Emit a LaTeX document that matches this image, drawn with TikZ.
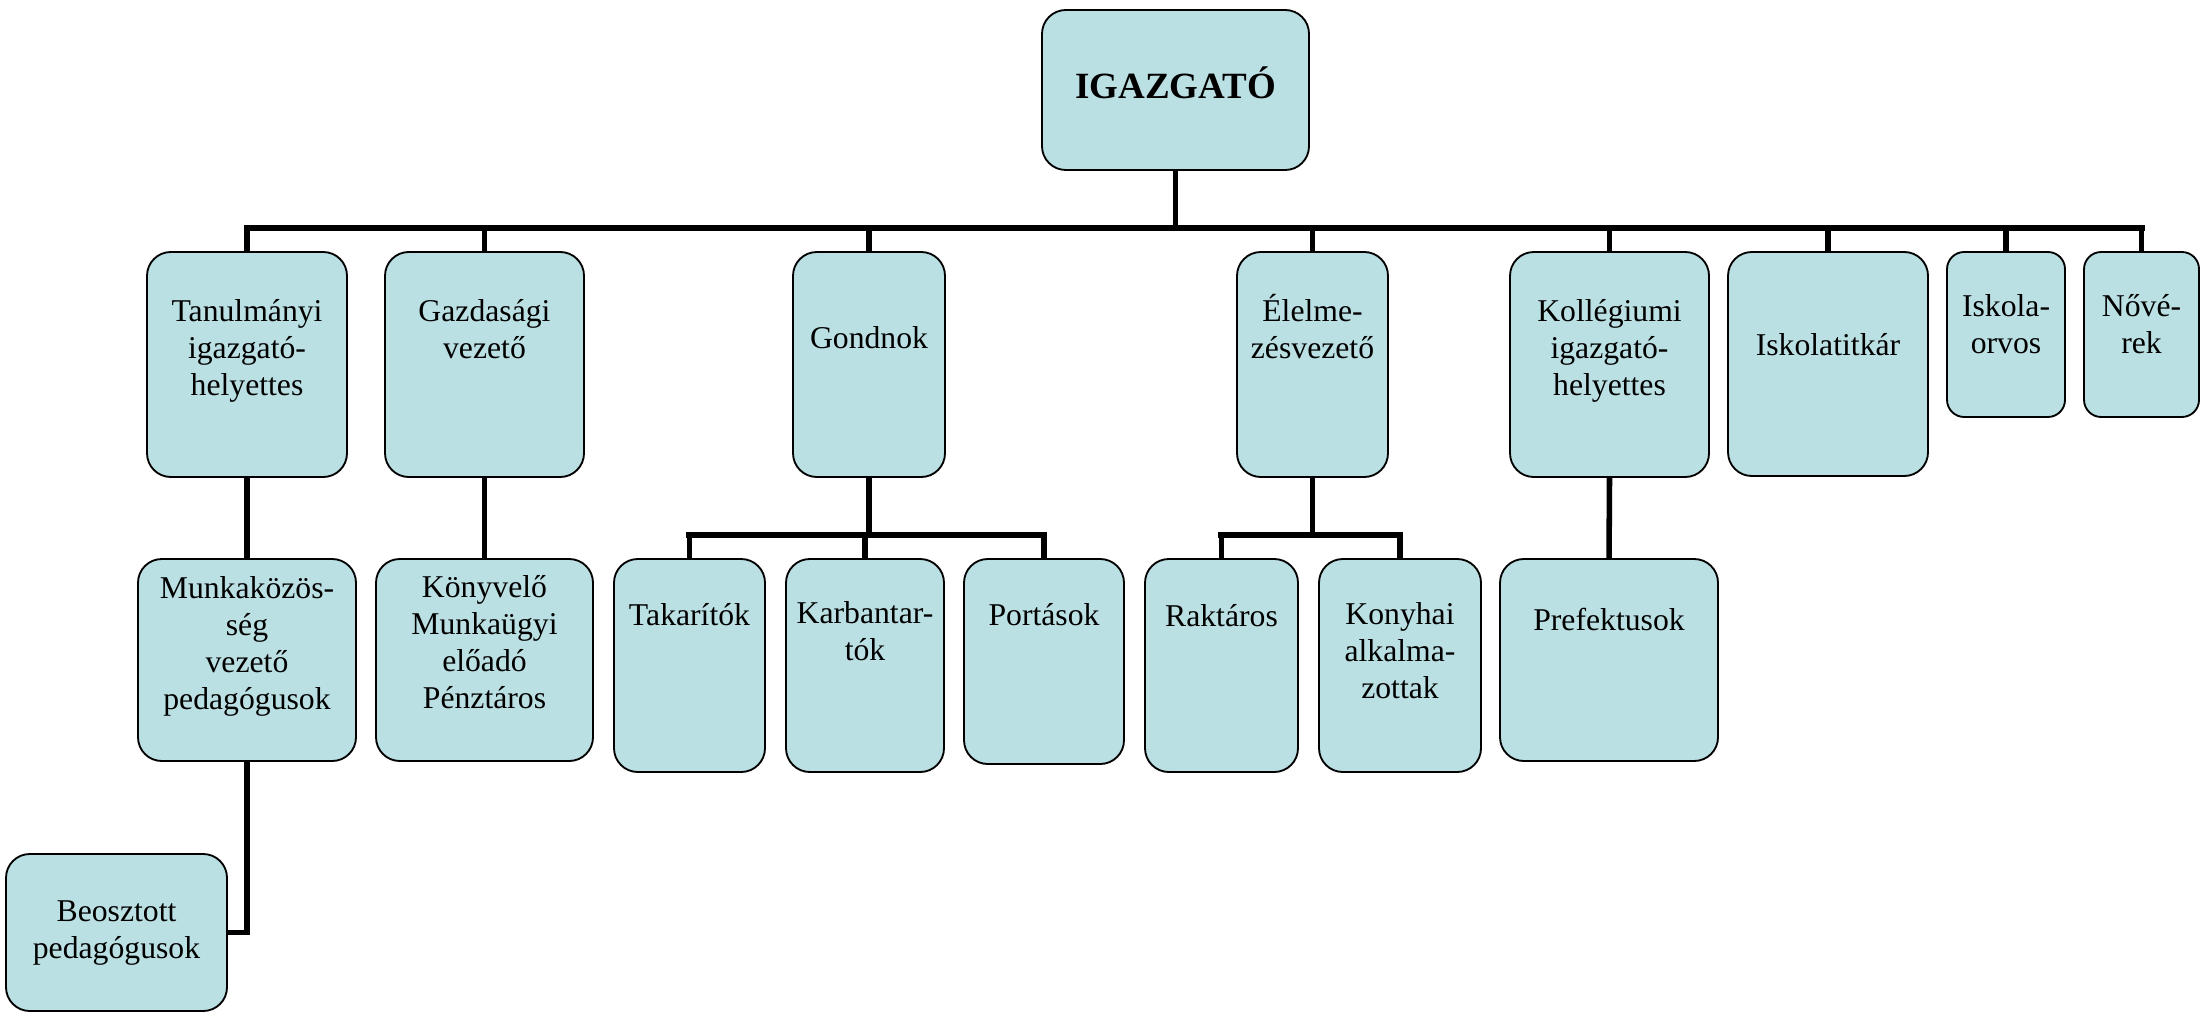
\documentclass[tikz,border=0pt]{standalone}
\usepackage{fontspec}
\setmainfont{Liberation Serif}
\def\pxu{0.3785pt}
\definecolor{boxfill}{HTML}{BBE0E3}
\tikzset{
  box/.style={draw=black, line width=0.7pt, fill=boxfill, rounded corners=9pt, inner sep=0pt, rectangle},
  smallbox/.style={box, rounded corners=6.5pt},
  lbl/.style={align=center, inner sep=0pt, font=\fontsize{12}{14}\selectfont,
    execute at begin node=\strut, execute at end node=\strut},
  toplbl/.style={align=center, inner sep=0pt, font=\fontsize{14}{16}\selectfont\bfseries},
  drop/.style={line width=2.1pt},
  busline/.style={line width=2.5pt, line cap=rect},
  elbow/.style={line width=2.2pt, line join=miter},
}
\begin{document}
\begin{tikzpicture}[x=\pxu, y=-\pxu]
\useasboundingbox (0,0) rectangle (2201,1013);

% ---- boxes ----
\node[box, minimum width=267*\pxu, minimum height=160*\pxu] (dir) at (1175.5,90) {};
\node[box, minimum width=200*\pxu, minimum height=225*\pxu] (tan) at (247,364.5) {};
\node[box, minimum width=199*\pxu, minimum height=225*\pxu] (gaz) at (484.5,364.5) {};
\node[box, minimum width=152*\pxu, minimum height=225*\pxu] (gon) at (869,364.5) {};
\node[box, minimum width=151*\pxu, minimum height=225*\pxu] (ele) at (1312.5,364.5) {};
\node[box, minimum width=199*\pxu, minimum height=225*\pxu] (kol) at (1609.5,364.5) {};
\node[box, minimum width=200*\pxu, minimum height=224*\pxu] (tit) at (1828,364) {};
\node[smallbox, minimum width=118*\pxu, minimum height=165*\pxu] (orv) at (2006,334.5) {};
\node[smallbox, minimum width=115*\pxu, minimum height=165*\pxu] (nov) at (2141.5,334.5) {};

\node[box, minimum width=218*\pxu, minimum height=202*\pxu] (mkk) at (247,660) {};
\node[box, minimum width=217*\pxu, minimum height=202*\pxu] (kony) at (484.5,660) {};
\node[box, minimum width=151*\pxu, minimum height=213*\pxu] (tak) at (689.5,665.5) {};
\node[box, minimum width=158*\pxu, minimum height=213*\pxu] (karb) at (865,665.5) {};
\node[box, minimum width=160*\pxu, minimum height=205*\pxu] (port) at (1044,661.5) {};
\node[box, minimum width=153*\pxu, minimum height=213*\pxu] (rakt) at (1221.5,665.5) {};
\node[box, minimum width=162*\pxu, minimum height=213*\pxu] (konyh) at (1400,665.5) {};
\node[box, minimum width=218*\pxu, minimum height=202*\pxu] (pref) at (1609,660) {};
\node[box, minimum width=221*\pxu, minimum height=157*\pxu] (beo) at (116.5,932.5) {};

% ---- texts ----
\node[toplbl] (dir-t) at (1175.5,83) {IGAZGATÓ};
\node[lbl] (tan-t) at (247,353) {Tanulmányi\\igazgató-\\helyettes};
\node[lbl] (gaz-t) at (484.5,334.5) {Gazdasági\\vezető};
\node[lbl] (gon-t) at (869,341) {Gondnok};
\node[lbl] (ele-t) at (1312.5,331.5) {Élelme-\\zésvezető};
\node[lbl] (kol-t) at (1609.5,353) {Kollégiumi\\igazgató-\\helyettes};
\node[lbl] (tit-t) at (1828,348) {Iskolatitkár};
\node[lbl] (orv-t) at (2006,329.5) {Iskola-\\orvos};
\node[lbl] (nov-t) at (2141.5,329.5) {Nővé-\\rek};

\node[lbl] (mkk-t) at (247,648.5) {Munkaközös-\\ség\\vezető\\pedagógusok};
\node[lbl] (kony-t) at (484.5,648) {Könyvelő\\Munkaügyi\\előadó\\Pénztáros};
\node[lbl] (tak-t) at (689.5,618) {Takarítók};
\node[lbl] (karb-t) at (865,637) {Karbantar-\\tók};
\node[lbl] (port-t) at (1044,618) {Portások};
\node[lbl] (rakt-t) at (1221.5,619) {Raktáros};
\node[lbl] (konyh-t) at (1400,656) {Konyhai\\alkalma-\\zottak};
\node[lbl] (pref-t) at (1609,623) {Prefektusok};
\node[lbl] (beo-t) at (116.5,935) {Beosztott\\pedagógusok};

% ---- bus coordinates ----
\coordinate (bus) at (0,228);
\coordinate (gbus) at (0,535);

% ---- main bus ----
\draw[busline] (tan.north |- bus) -- (nov.north |- bus);
\draw[drop] (dir.south) -- (dir.south |- bus);
\foreach \n in {tan,gaz,gon,ele,kol,tit,orv,nov}
  \draw[drop] (\n.north |- bus) -- (\n.north);

% ---- Gondnok group ----
\draw[busline] (tak.north |- gbus) -- (port.north |- gbus);
\draw[drop] (gon.south) -- (gon.south |- gbus);
\foreach \n in {tak,karb,port}
  \draw[drop] (\n.north |- gbus) -- (\n.north);

% ---- Élelmezés group ----
\draw[busline] (rakt.north |- gbus) -- (konyh.north |- gbus);
\draw[drop] (ele.south) -- (ele.south |- gbus);
\foreach \n in {rakt,konyh}
  \draw[drop] (\n.north |- gbus) -- (\n.north);

% ---- direct links ----
\draw[drop] (tan.south) -- (mkk.north);
\draw[drop] (gaz.south) -- (kony.north);
\draw[drop] (kol.south) -- (pref.north);
\draw[elbow] (mkk.south) |- (beo.east);
\end{tikzpicture}
\end{document}
